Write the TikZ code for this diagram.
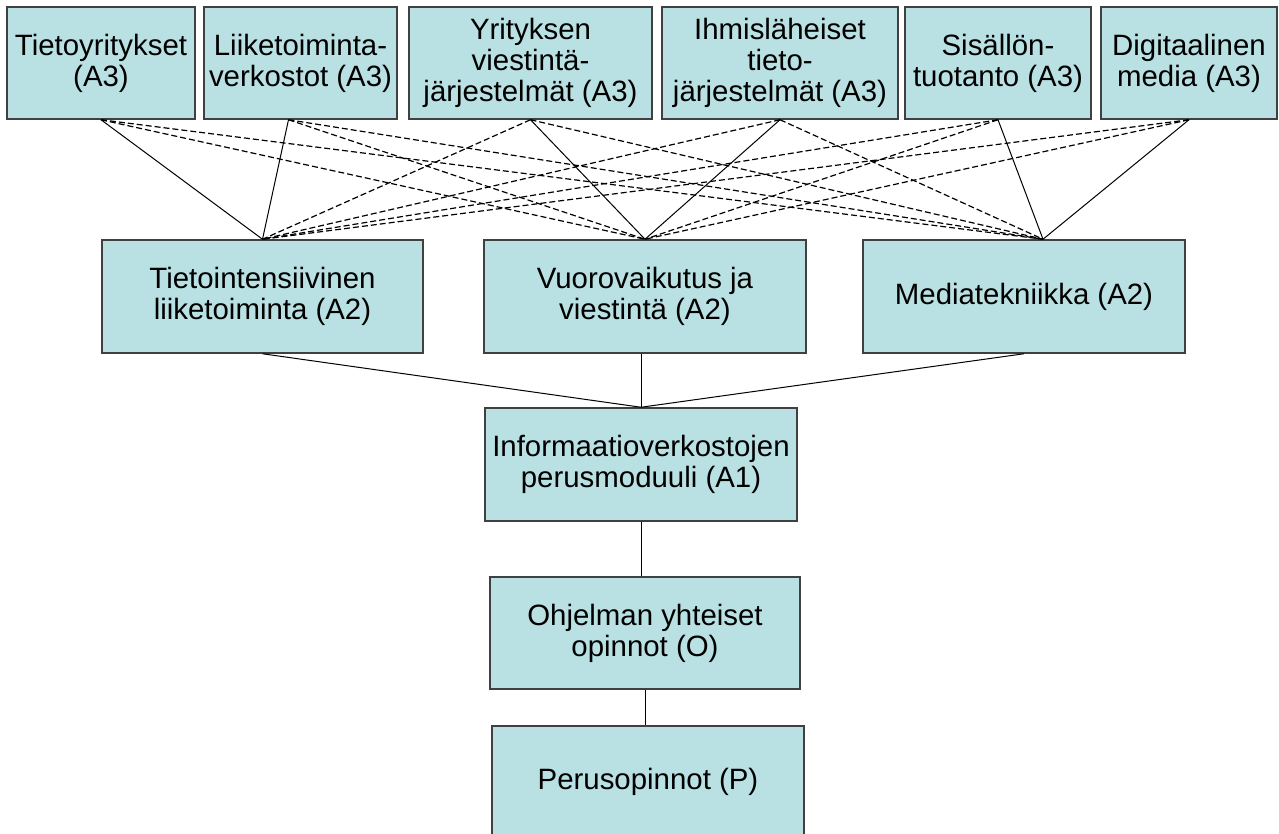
\documentclass[tikz,border=0pt]{standalone}
\usepackage{fontspec}
\setmainfont{Liberation Sans}

\definecolor{boxfill}{RGB}{185,224,226}
\definecolor{boxline}{RGB}{64,64,64}

\newcommand{\px}{0.5pt}
\newcommand{\toprow}{63}
\newcommand{\midrow}{296.5}
\newcommand{\boxh}{112}

\begin{document}
\begin{tikzpicture}[x=0.5pt, y=-0.5pt,
  modbox/.style={draw=boxline, line width=0.75pt, fill=boxfill, inner sep=0pt,
    align=center, minimum height=\boxh*\px,
    font=\fontsize{14.7pt}{15.5pt}\selectfont},
  link/.style={line width=0.5pt},
  optlink/.style={line width=0.6pt, dash pattern=on 3pt off 1.5pt}]

  \clip (0,0) rectangle (1279,834);

  % A3 row
  \node [modbox, minimum width=188*\px] (tieto) at (101, \toprow) {Tietoyritykset\\(A3)};
  \node [modbox, minimum width=193*\px] (liike) at (300.5, \toprow) {Liiketoiminta-\\verkostot (A3)};
  \node [modbox, minimum width=243*\px] (yritys) at (530.5, \toprow) {Yrityksen\\viestintä-\\järjestelmät (A3)};
  \node [modbox, minimum width=236*\px] (ihmis) at (780, \toprow) {Ihmisläheiset\\tieto-\\järjestelmät (A3)};
  \node [modbox, minimum width=186*\px] (sisalto) at (998, \toprow) {Sisällön-\\tuotanto (A3)};
  \node [modbox, minimum width=176*\px] (digi) at (1189, \toprow) {Digitaalinen\\media (A3)};

  % A2 row
  \node [modbox, minimum width=321*\px, minimum height=113*\px] (tint) at (262.5, \midrow) {Tietointensiivinen\\liiketoiminta (A2)};
  \node [modbox, minimum width=322*\px, minimum height=113*\px] (vuoro) at (645, \midrow) {Vuorovaikutus ja\\viestintä (A2)};
  \node [modbox, minimum width=322*\px, minimum height=113*\px] (media) at (1024, \midrow) {Mediatekniikka (A2)};

  % A1, O, P
  \node [modbox, minimum width=312*\px, minimum height=113*\px] (perusmod) at (641, 464.5) {Informaatioverkostojen\\perusmoduuli (A1)};
  \node [modbox, minimum width=310*\px] (ohjelma) at (645, 633) {Ohjelman yhteiset\\opinnot (O)};
  \node [modbox, minimum width=312*\px] (perus) at (648, 782) {Perusopinnot (P)};

  \coordinate (liikebot) at ([xshift=-6pt]liike.south);
  \coordinate (mediatop) at ([xshift=9.5pt]media.north);

  % main paths
  \draw [link] (tieto.south) -- (tint.north);
  \draw [link] (liikebot) -- (tint.north);
  \draw [link] (yritys.south) -- (vuoro.north);
  \draw [link] (ihmis.south) -- (vuoro.north);
  \draw [link] (sisalto.south) -- (mediatop);
  \draw [link] (digi.south) -- (mediatop);

  % optional paths
  \draw [optlink] (tieto.south) -- (vuoro.north);
  \draw [optlink] (tieto.south) -- (mediatop);
  \draw [optlink] (liikebot) -- (vuoro.north);
  \draw [optlink] (liikebot) -- (mediatop);
  \draw [optlink] (yritys.south) -- (tint.north);
  \draw [optlink] (yritys.south) -- (mediatop);
  \draw [optlink] (ihmis.south) -- (tint.north);
  \draw [optlink] (ihmis.south) -- (mediatop);
  \draw [optlink] (sisalto.south) -- (tint.north);
  \draw [optlink] (sisalto.south) -- (vuoro.north);
  \draw [optlink] (digi.south) -- (tint.north);
  \draw [optlink] (digi.south) -- (vuoro.north);

  \draw [link] (tint.south) -- (perusmod.north);
  \draw [link] (perusmod.north |- vuoro.south) -- (perusmod.north);
  \draw [link] (media.south) -- (perusmod.north);
  \draw [link] (perusmod.south) -- (perusmod.south |- ohjelma.north);
  \draw [link] (ohjelma.south) -- (ohjelma.south |- perus.north);

\end{tikzpicture}
\end{document}
